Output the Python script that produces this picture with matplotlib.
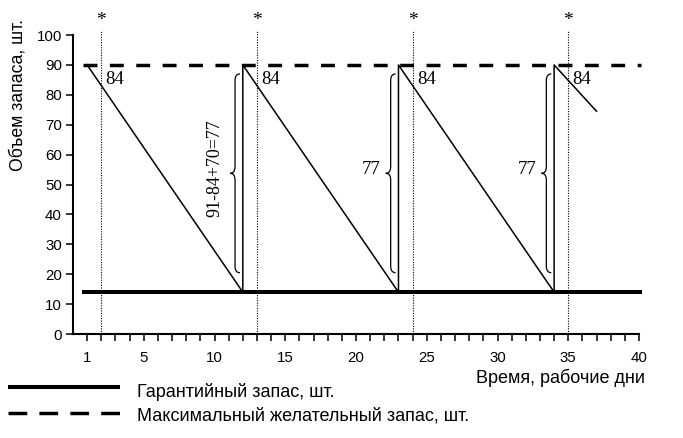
import numpy as np
import matplotlib
matplotlib.use("Agg")
import matplotlib.pyplot as plt
from matplotlib.path import Path
from matplotlib.patches import PathPatch
from matplotlib.lines import Line2D

# данные
saw_x = [1, 12, 12, 23, 23, 34, 34, 37]
saw_y = [90, 14, 90, 14, 90, 14, 90, 74.5]
order_days = [12, 23, 34]
check_days = [2, 13, 24, 35]
guarantee_stock = 14
max_stock = 90
brace_labels = ["91-84+70=77", "77", "77"]
stock_label = "84"
x_ticks = list(range(1, 41))
x_ticklabels = [1, 5, 10, 15, 20, 25, 30, 35, 40]
y_ticks = list(range(0, 101, 10))

SANS = "Liberation Sans"
SERIF = "Liberation Serif"


def draw_brace(ax, x, y0, y1, w, r):
    # фигурная скобка, острием влево
    ym = (y0 + y1) / 2
    verts = [
        (x + w, y0), (x, y0), (x, y0 + r),
        (x, ym - r),
        (x, ym), (x - w, ym),
        (x, ym), (x, ym + r),
        (x, y1 - r),
        (x, y1), (x + w, y1),
    ]
    codes = [Path.MOVETO, Path.CURVE3, Path.CURVE3,
             Path.LINETO,
             Path.CURVE3, Path.CURVE3,
             Path.CURVE3, Path.CURVE3,
             Path.LINETO,
             Path.CURVE3, Path.CURVE3]
    ax.add_patch(PathPatch(Path(verts, codes), fill=False, lw=0.9, color="black"))


fig = plt.figure(figsize=(6.83, 4.38), dpi=100)
ax = fig.add_axes([0.1069, 0.2374, 0.8287, 0.6826])

ax.set_xlim(0, 40)
ax.set_ylim(0, 100)

# гарантийный и максимальный запас
ax.plot([0.6, 40.2], [guarantee_stock] * 2, color="black", lw=2.9,
        solid_capstyle="butt", clip_on=False, zorder=3)
ax.plot([0.7, 40.15], [max_stock] * 2, color="black", lw=2.5,
        dashes=(4.0, 3.6), clip_on=False, zorder=3)

# пила
ax.plot(saw_x, saw_y, color="black", lw=1.1, zorder=4)

# контрольные дни
ax.vlines(check_days, 0, 101.5, colors="black", lw=0.8,
          linestyles=(0, (1, 1.3)), clip_on=False)
for d in check_days:
    ax.text(d, 104.8, "*", ha="center", va="center", fontsize=14,
            family=SERIF, clip_on=False)
    ax.text(d + 0.3, 85, stock_label, ha="left", va="center",
            fontsize=13.5, family=SERIF)

# скобки
lo = guarantee_stock + 6.5
hi = max_stock - 3
for i, d in enumerate(order_days):
    draw_brace(ax, d - 0.55, lo, hi, 0.35, 2.2)
    if i == 0:
        ax.text(d - 2.0, 55.5, brace_labels[i], rotation=90, ha="center",
                va="center", fontsize=13, family=SERIF)
    else:
        ax.text(d - 1.25, 55, brace_labels[i], ha="right", va="center",
                fontsize=13.5, family=SERIF)

# оси
for s in ["top", "right"]:
    ax.spines[s].set_visible(False)
ax.spines["left"].set_linewidth(1.5)
ax.spines["bottom"].set_linewidth(1.5)

ax.set_xticks(x_ticks)
ax.set_xticklabels([str(t) if t in x_ticklabels else "" for t in x_ticks])
ax.set_yticks(y_ticks)
ax.tick_params(axis="both", direction="out", length=5, width=1.1,
               labelsize=10.8)
ax.tick_params(axis="x", pad=7)
ax.tick_params(axis="y", pad=3)
for lbl in ax.get_xticklabels() + ax.get_yticklabels():
    lbl.set_family(SANS)

fig.text(0.026, 0.783, "Объем запаса, шт.", rotation=90, ha="center",
         va="center", fontsize=12.7, family=SANS)
fig.text(0.944, 0.1256, "Время, рабочие дни", ha="right", va="baseline",
         fontsize=13, family=SANS)

# легенда
fig.add_artist(Line2D([8 / 683, 120 / 683], [51 / 438, 51 / 438],
                      color="black", lw=2.9, solid_capstyle="butt"))
fig.add_artist(Line2D([8 / 683, 120 / 683], [25 / 438, 25 / 438],
                      color="black", lw=2.5, dashes=(5.4, 3.5)))
fig.text(137 / 683, 0.0936, "Гарантийный запас, шт.", ha="left",
         va="baseline", fontsize=13, family=SANS)
fig.text(137 / 683, 0.041, "Максимальный желательный запас, шт.", ha="left",
         va="baseline", fontsize=13, family=SANS)

fig.savefig("out.png", dpi=100)
